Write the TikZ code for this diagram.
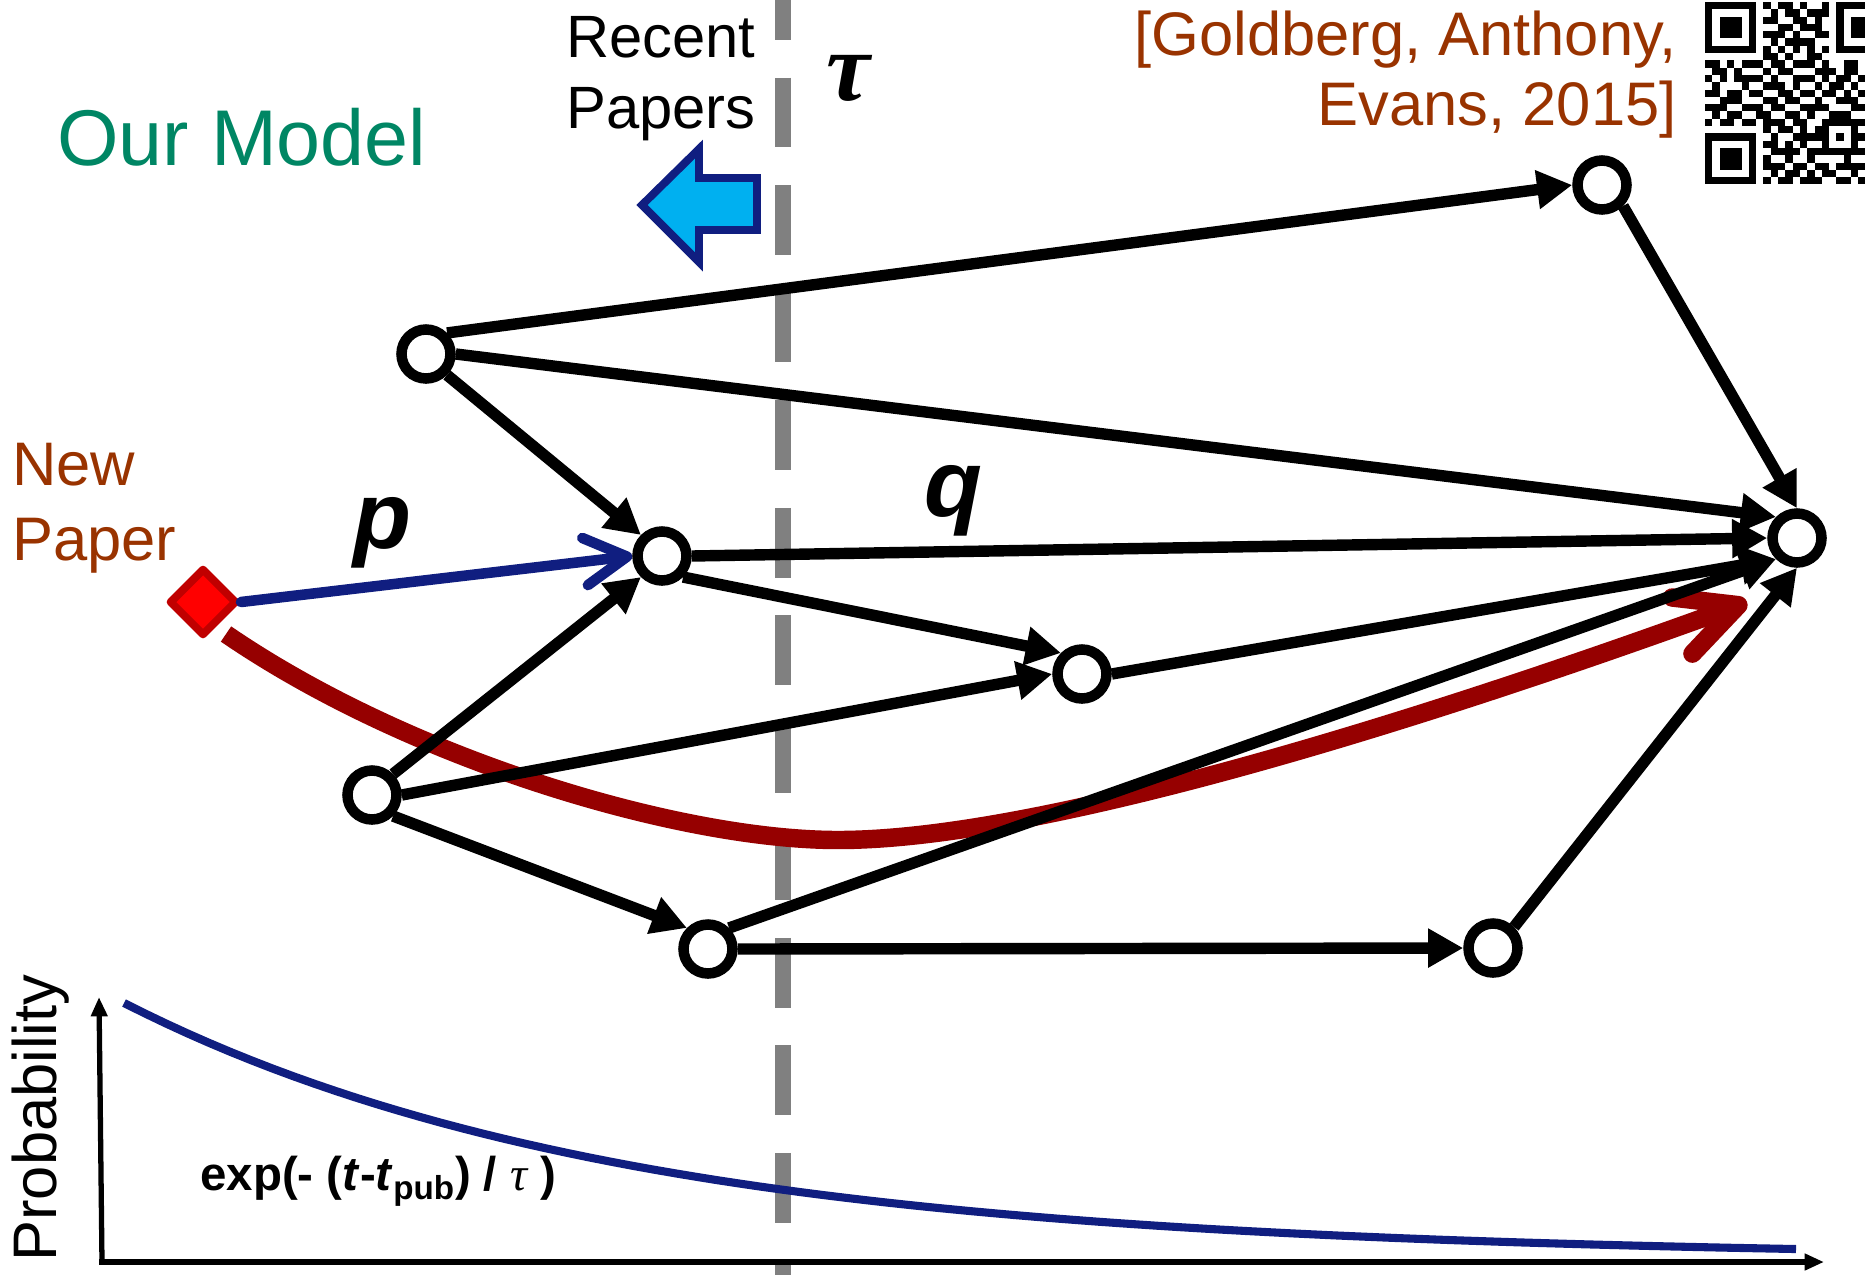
\documentclass[tikz,border=0pt]{standalone}
\usepackage{fontspec}
\setmainfont{Liberation Sans}
\newfontfamily\serifgreek{Liberation Serif}
\usetikzlibrary{arrows.meta,shapes.geometric}
\definecolor{brownt}{RGB}{153,51,0}
\definecolor{tealt}{RGB}{0,134,100}
\definecolor{navyb}{RGB}{16,30,128}
\definecolor{skyb}{RGB}{0,176,240}
\definecolor{darkredc}{RGB}{150,0,0}
\definecolor{diamedge}{RGB}{192,0,0}
\definecolor{dashgray}{RGB}{128,128,128}
\newcount\qrcol
\def\qrrow#1#2{\def\qrr{#1}\qrcol=0 \qrparse#2\relax}
\def\qrparse#1{\ifx#1\relax\else\if1#1\fill (\the\qrcol,\qrr) rectangle ++(1,1);\fi\advance\qrcol by 1 \expandafter\qrparse\fi}
\begin{document}
\begin{tikzpicture}[x=0.02cm, y=-0.02cm,
  vtx/.style={circle, draw, line width=6pt, fill=white, minimum size=0.98cm, inner sep=0pt},
  edge/.style={line width=6.5pt, -{Triangle[length=20pt,width=21pt]}},
  blueline/.style={line width=6pt, draw=navyb, line cap=round, -{Straight Barb[length=24pt,width=27pt,round]}},
  redline/.style={line width=10.5pt, draw=darkredc, -{Straight Barb[length=34pt,width=34pt,round]}},
  axisline/.style={line width=3pt, -{Triangle[length=11pt,width=9pt]}},
  txt/.style={inner sep=0pt, font=\fontsize{35pt}{40pt}\selectfont}
]
\useasboundingbox (0,0) rectangle (1865,1275);
% dashed time line
\coordinate (dtop) at (783,0);
\coordinate (dbot) at (783,1275);
\draw[draw=dashgray, line width=9.5pt, dash pattern=on 39.7pt off 21.5pt, dash phase=17pt] (dtop) -- (dbot);
% QR code
\begin{scope}
\clip (1690,0) rectangle (1865,200);
\begin{scope}[shift={(1705,2)}, x=0.146cm, y=-0.146cm]
\qrrow{0}{1111111010110100101111111}
\qrrow{1}{1000001001011011101000001}
\qrrow{2}{1011101011001101001011101}
\qrrow{3}{1011101000110111001011101}
\qrrow{4}{1011101011101001101011101}
\qrrow{5}{1000001001011110001000001}
\qrrow{6}{1111111010101010101111111}
\qrrow{7}{0000000011010011000000000}
\qrrow{8}{1101011101101110100110101}
\qrrow{9}{0110100010110001110110010}
\qrrow{10}{1010111101001110101101101}
\qrrow{11}{0100010011101001011010011}
\qrrow{12}{1101101100110110110101100}
\qrrow{13}{0011100011011001001110111}
\qrrow{14}{1110011101100111100011010}
\qrrow{15}{0101100110011010011100101}
\qrrow{16}{1011011011101100111111100}
\qrrow{17}{0000000010110101100010110}
\qrrow{18}{1111111001001111101011011}
\qrrow{19}{1000001011010100100010100}
\qrrow{20}{1011101001111011111111011}
\qrrow{21}{1011101010010010000100110}
\qrrow{22}{1011101011101101101111011}
\qrrow{23}{1000001001011010110010101}
\qrrow{24}{1111111010110111001101110}
\end{scope}
\end{scope}
% texts
\node[txt, anchor=base west, text=tealt, font=\fontsize{45pt}{54pt}\selectfont] (om) at (57,165) {Our Model};
\node[txt, anchor=base west, font=\fontsize{34pt}{40pt}\selectfont] (rp1) at (566,57) {Recent};
\node[txt, anchor=base west, font=\fontsize{34pt}{40pt}\selectfont] (rp2) at (566,128) {Papers};
\node[txt, anchor=base east, text=brownt] (ref1) at (1677,55) {[Goldberg, Anthony,};
\node[txt, anchor=base east, text=brownt] (ref2) at (1677,125) {Evans, 2015]};
\node[txt, anchor=base west, text=brownt] (np1) at (12,485) {New};
\node[txt, anchor=base west, text=brownt] (np2) at (12,560) {Paper};
\node[txt, anchor=base west, font=\fontsize{54pt}{60pt}\selectfont\bfseries\itshape] (plab) at (353,548) {p};
\node[txt, anchor=base west, font=\fontsize{54pt}{60pt}\selectfont\bfseries\itshape] (qlab) at (924,516) {q};
\node[txt, anchor=base, font=\fontsize{56pt}{60pt}\selectfont\serifgreek\bfseries\itshape] (tau) at (848,100) {τ};
% block arrow
\draw[draw=navyb, fill=skyb, line width=4.5pt] (642,205) -- (699,149) -- (699,178) -- (757,178) -- (757,230) -- (699,230) -- (699,262) -- cycle;
% nodes
\node[vtx] (A) at (426,354) {};
\node[vtx] (B) at (662,556) {};
\node[vtx] (C) at (1082,674) {};
\node[vtx] (D) at (372,795) {};
\node[vtx] (E) at (708,949) {};
\node[vtx] (F) at (1493,948) {};
\node[vtx] (G) at (1602,185) {};
\node[vtx] (H) at (1797,538) {};
\node[diamond, draw=diamedge, fill=red, line width=4.5pt, line join=round, minimum size=1.36cm, inner sep=0pt] (np) at (203,602) {};
% red curve
\coordinate (rs) at (226,634);
\coordinate (re) at (1747,602);
\draw[redline] (rs) .. controls (410,760) and (680,840) .. (838,840) .. controls (1050,840) and (1450,710) .. (re);
% edges
\draw[edge] (A.north east) -- (G.west);
\draw[edge] (A.east) -- (H.north west);
\draw[edge] (A.south east) -- (B.north west);
\draw[edge] (G.south east) -- (H.north);
\draw[edge] (B.east) -- (H.west);
\draw[edge] (B.south east) -- (C.north west);
\draw[edge] (C.east) -- (H.south west);
\draw[edge] (D.north east) -- (B.south west);
\draw[edge] (D.east) -- (C.west);
\draw[edge] (D.south east) -- (E.north west);
\draw[edge] (E.north east) -- (H.south west);
\draw[edge] (E.east) -- (F.west);
\draw[edge] (F.north east) -- (H.south);
\draw[blueline] (np.east) -- (B.west);
% plot
\coordinate (orig) at (102,1262);
\coordinate (ytop) at (99,997);
\coordinate (xend) at (1824,1262);
\draw[axisline] (orig) -- (ytop);
\draw[axisline] ([xshift=-1.5pt]orig) -- (xend);
\draw[navyb, line width=4.6pt] plot[domain=124:1796, samples=80] (\x, {1003 + 255*(1-exp(-(\x-124)/500))});
\node[txt, rotate=90, anchor=base west] (prob) at (56,1262) {Probability};
\node[txt, anchor=base west, font=\fontsize{27pt}{32pt}\selectfont\bfseries] (fm) at (200,1190) {exp(- (\textit{t}-\textit{t}\textsubscript{pub}) / {\serifgreek\mdseries\itshape τ} )};
\end{tikzpicture}
\end{document}
